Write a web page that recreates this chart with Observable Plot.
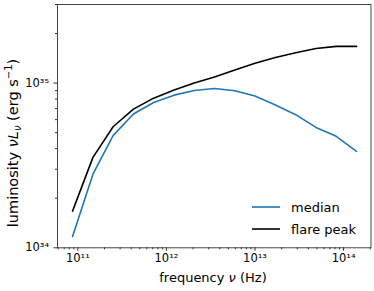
<!DOCTYPE html>
<html>
<head>
<meta charset="utf-8">
<script src="https://cdn.jsdelivr.net/npm/d3@7"></script>
<script src="https://cdn.jsdelivr.net/npm/@observablehq/plot@0.6"></script>
<style>
  html, body { margin: 0; padding: 0; background: white; }
  svg { display: block; }
</style>
</head>
<body>
<div id="chart"></div>
<script>
// ---- data ----
const freq = [8.71e10, 1.48e11, 2.50e11, 4.24e11, 7.18e11, 1.22e12, 2.06e12, 3.49e12,
              5.92e12, 1.00e13, 1.70e13, 2.88e13, 4.88e13, 8.26e13, 1.40e14];
const median = [1.17e34, 2.80e34, 4.80e34, 6.49e34, 7.62e34, 8.45e34, 9.02e34, 9.27e34,
                8.98e34, 8.34e34, 7.36e34, 6.43e34, 5.38e34, 4.75e34, 3.85e34];
const flarePeak = [1.67e34, 3.54e34, 5.43e34, 6.95e34, 8.10e34, 9.07e34, 1.00e35, 1.09e35,
                   1.20e35, 1.32e35, 1.43e35, 1.53e35, 1.62e35, 1.67e35, 1.67e35];
const seriesNames = ["median", "flare peak"];
const seriesColors = ["#1f77b4", "#000000"];

const xMajor = [1e11, 1e12, 1e13, 1e14];
const xMajorLabels = ["10¹¹", "10¹²", "10¹³", "10¹⁴"];
const xMinor = [6e10, 7e10, 8e10, 9e10,
  2e11, 3e11, 4e11, 5e11, 6e11, 7e11, 8e11, 9e11,
  2e12, 3e12, 4e12, 5e12, 6e12, 7e12, 8e12, 9e12,
  2e13, 3e13, 4e13, 5e13, 6e13, 7e13, 8e13, 9e13, 2e14];
const yMajor = [1e34, 1e35];
const yMajorLabels = ["10³⁴", "10³⁵"];
const yMinor = [2e34, 3e34, 4e34, 5e34, 6e34, 7e34, 8e34, 9e34, 2e35, 3e35];

const rows = [];
freq.forEach((f, i) => {
  rows.push({freq: f, lum: median[i], series: seriesNames[0]});
});
freq.forEach((f, i) => {
  rows.push({freq: f, lum: flarePeak[i], series: seriesNames[1]});
});

const font = "DejaVu Sans";
const chart = Plot.plot({
  width: 374,
  height: 291,
  marginLeft: 57,
  marginRight: 3.5,
  marginTop: 4,
  marginBottom: 43.7,
  style: {fontFamily: font, background: "white", color: "#000"},
  x: {type: "log", domain: [5.89e10, 2.04e14]},
  y: {type: "log", domain: [1e34, 3e35]},
  color: {domain: seriesNames, range: seriesColors},
  marks: [
    Plot.axisX({ticks: xMinor, tickSize: 2, tickFormat: () => "", label: null, strokeWidth: 0.8}),
    Plot.axisX({ticks: xMajor, tickSize: 3.5, tickPadding: 3, label: null, fontSize: 11.5,
      strokeWidth: 0.8, tickFormat: d => xMajorLabels[xMajor.indexOf(d)]}),
    Plot.axisY({ticks: yMinor, tickSize: 2, tickFormat: () => "", label: null, strokeWidth: 0.8}),
    Plot.axisY({ticks: yMajor, tickSize: 3.5, tickPadding: 5, label: null, fontSize: 11.5,
      strokeWidth: 0.8, tickFormat: d => yMajorLabels[yMajor.indexOf(d)]}),
    Plot.line(rows, {x: "freq", y: "lum", z: "series", stroke: "series", strokeWidth: 1.6}),
    Plot.frame({stroke: "#333", strokeWidth: 0.9})
  ]
});
document.getElementById("chart").appendChild(chart);

const svg = d3.select(chart);
// x label
const xl = svg.append("text")
  .attr("x", 213).attr("y", 282)
  .attr("text-anchor", "middle")
  .attr("font-family", font).attr("font-size", 13).attr("fill", "#000");
xl.append("tspan").text("frequency ");
xl.append("tspan").attr("font-style", "italic").text("ν");
xl.append("tspan").text(" (Hz)");

// y label
const yl = svg.append("text")
  .attr("transform", "translate(17.5,143) rotate(-90)")
  .attr("text-anchor", "middle")
  .attr("font-family", font).attr("font-size", 14.5).attr("fill", "#000");
yl.append("tspan").text("luminosity ");
yl.append("tspan").attr("font-style", "italic").text("νL");
yl.append("tspan").attr("font-style", "italic").attr("font-size", 10).attr("dy", 3).text("ν");
yl.append("tspan").attr("dy", -3).text(" (erg s");
yl.append("tspan").attr("font-size", 10).attr("dy", -5.5).text("−1");
yl.append("tspan").attr("dy", 5.5).text(")");

// legend
const legend = svg.append("g").attr("font-family", font).attr("font-size", 13)
  .attr("text-anchor", "start");
const legendY = [207, 229];
seriesNames.forEach((name, i) => {
  legend.append("line")
    .attr("x1", 252).attr("x2", 280)
    .attr("y1", legendY[i]).attr("y2", legendY[i])
    .attr("stroke", seriesColors[i]).attr("stroke-width", 1.6);
  legend.append("text")
    .attr("x", 291).attr("y", legendY[i])
    .attr("dy", "0.35em")
    .attr("text-anchor", "start")
    .attr("fill", "#000")
    .text(name);
});
</script>
</body>
</html>
